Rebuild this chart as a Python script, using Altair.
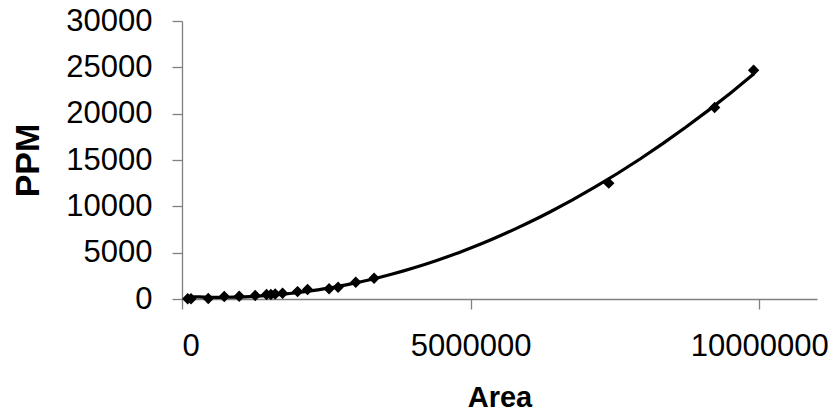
import altair as alt
import pandas as pd

area = [99000, 156000, 455000, 732000, 991000, 1268000, 1465000, 1540000, 1614000,
        1742000, 2002000, 2175000, 2548000, 2704000, 3010000, 3327000,
        7393000, 9227000, 9902000]
ppm = [20, 25, 50, 270, 300, 380, 480, 480, 540,
       620, 800, 1020, 1100, 1270, 1800, 2240,
       12500, 20670, 24690]

x_ticks = [0, 5000000, 10000000]
y_ticks = [0, 5000, 10000, 15000, 20000, 25000, 30000]

df = pd.DataFrame({"Area": area, "PPM": ppm})

FONT = "Liberation Sans"
AXIS_GRAY = "#808080"

x_enc = alt.X("Area:Q",
              scale=alt.Scale(domain=[0, 11000000], nice=False, zero=True),
              axis=alt.Axis(values=x_ticks, format="d", title="Area",
                            labelPadding=22, titlePadding=22, titleFontSize=29))
y_enc = alt.Y("PPM:Q",
              scale=alt.Scale(domain=[0, 30000], nice=False),
              axis=alt.Axis(values=y_ticks, format="d", title="PPM",
                            labelPadding=20, titlePadding=20, titleFontSize=34))

base = alt.Chart(df)

points = base.mark_point(shape="diamond", filled=True, size=130, color="black",
                         opacity=1).encode(x=x_enc, y=y_enc)

trend = base.transform_regression("Area", "PPM", method="poly", order=2).mark_line(
    color="black", strokeWidth=3.2).encode(x=x_enc, y=y_enc)

chart = alt.layer(trend, points).properties(
    width=635, height=278,
    autosize=alt.AutoSizeParams(type="none"),
    padding={"left": 182, "top": 21, "right": 16, "bottom": 120},
    background="white",
).configure_view(stroke=None).configure_axis(
    grid=False,
    domainColor=AXIS_GRAY,
    tickColor=AXIS_GRAY,
    domainWidth=1.3,
    tickWidth=1.3,
    tickSize=10,
    labelFont=FONT,
    labelFontSize=31,
    labelColor="black",
    titleFont=FONT,
    titleFontWeight="bold",
    titleColor="black",
)

chart.save("out.html", embed_options={"renderer": "svg", "actions": False})
